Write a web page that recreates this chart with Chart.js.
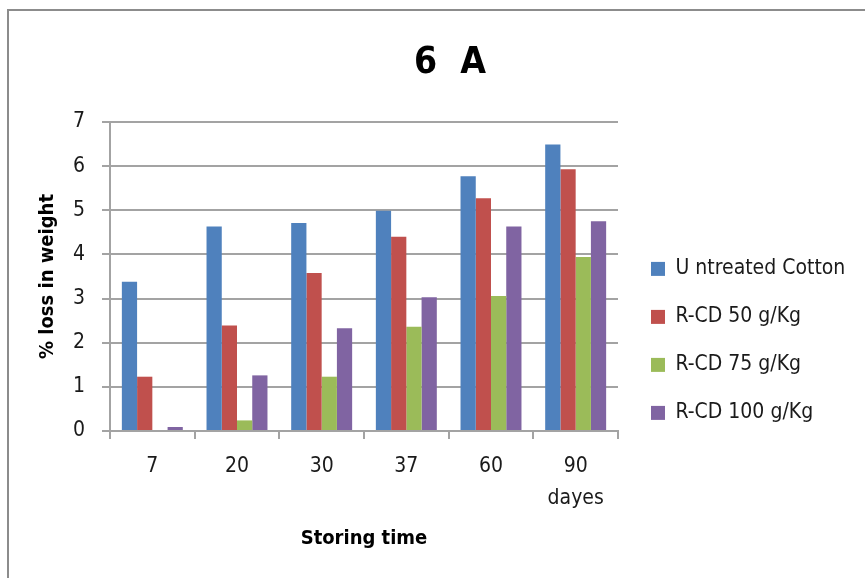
<!DOCTYPE html>
<html>
<head>
<meta charset="utf-8">
<script src="https://cdn.jsdelivr.net/npm/chart.js@4/dist/chart.umd.min.js"></script>
<style>
  html, body { margin: 0; padding: 0; background: #ffffff; overflow: hidden; }
  #frame {
    position: absolute;
    left: 7px;
    top: 9px;
    border-left: 2px solid #8c8c8c;
    border-top: 2px solid #8c8c8c;
    width: 882px;
    height: 600px;
  }
</style>
</head>
<body>
<div id="frame">
  <canvas id="chart" width="882" height="600"></canvas>
</div>
<script>
// -----------------------------
// DATA
// -----------------------------
const storingDays = ["7", "20", "30", "37", "60", ["90", "dayes"]];
const seriesNames = ["U ntreated Cotton", "R-CD 50 g/Kg", "R-CD 75 g/Kg", "R-CD 100 g/Kg"];
const untreatedCotton = [3.38, 4.63, 4.71, 4.99, 5.77, 6.49];
const rcd50 = [1.23, 2.39, 3.58, 4.40, 5.27, 5.93];
const rcd75 = [0, 0.24, 1.23, 2.36, 3.06, 3.94];
const rcd100 = [0.09, 1.26, 2.33, 3.03, 4.63, 4.75];
const yTicks = [0, 1, 2, 3, 4, 5, 6, 7];

const seriesColors = ["#4f81bd", "#c0504d", "#9bbb59", "#8064a2"];
const FONT = "'DejaVu Sans Condensed', 'DejaVu Sans', sans-serif";
const GRID = "#a3a3a3";

const datasets = [untreatedCotton, rcd50, rcd75, rcd100].map((values, i) => ({
  label: seriesNames[i],
  data: values,
  backgroundColor: seriesColors[i],
  borderWidth: 0,
  categoryPercentage: 0.72,
  barPercentage: 1.0,
}));

// blank gap boxes on the right side (one before the legend, one after it)
const gapAxis = (width, weight) => ({
  type: "linear",
  position: "right",
  display: true,
  weight: weight,
  grid: { display: false },
  border: { display: false },
  ticks: { display: false },
  afterFit: (scale) => { scale.width = width; },
});

new Chart(document.getElementById("chart"), {
  type: "bar",
  data: { labels: storingDays, datasets },
  options: {
    responsive: false,
    animation: false,
    layout: { padding: 0 },
    plugins: {
      tooltip: { enabled: false },
      title: {
        display: true,
        text: "6  A",
        color: "#000000",
        font: { family: FONT, size: 37, weight: "bold", lineHeight: 1.2 },
        padding: { top: 30, bottom: 36.6 },
      },
      legend: {
        position: "right",
        align: "start",
        maxWidth: 230,
        title: { display: true, text: "", font: { size: 12 }, padding: { top: 206, bottom: 0 } },
        labels: {
          color: "#1a1a1a",
          boxWidth: 14,
          boxHeight: 14,
          padding: 27,
          font: { family: FONT, size: 21 },
        },
      },
    },
    scales: {
      x: {
        grid: { display: true, drawOnChartArea: false, drawTicks: true, tickLength: 8, color: GRID, lineWidth: 2 },
        border: { display: true, color: GRID, width: 2 },
        ticks: { color: "#1a1a1a", padding: 12, font: { family: FONT, size: 21, lineHeight: 1.52 } },
        title: {
          display: true,
          text: "Storing time",
          color: "#000000",
          font: { family: FONT, size: 20, weight: "bold", lineHeight: 1.2 },
          padding: { top: 0, bottom: 60 },
        },
        afterFit: (scale) => { scale.height = 180; },
      },
      y: {
        min: 0,
        max: 7,
        afterBuildTicks: (scale) => { scale.ticks = yTicks.map((v) => ({ value: v })); },
        grid: { color: GRID, lineWidth: 2, tickLength: 8 },
        border: { display: true, color: GRID, width: 2 },
        ticks: { color: "#1a1a1a", padding: 17, font: { family: FONT, size: 21 } },
        title: {
          display: true,
          text: "% loss in weight",
          color: "#000000",
          font: { family: FONT, size: 20, weight: "bold", lineHeight: 1.2 },
          padding: { top: 27, bottom: 0 },
        },
        afterFit: (scale) => { scale.width = 101; },
      },
      gapBefore: gapAxis(6, 0),
      gapAfter: gapAxis(37, 2000),
    },
  },
});
</script>
</body>
</html>
